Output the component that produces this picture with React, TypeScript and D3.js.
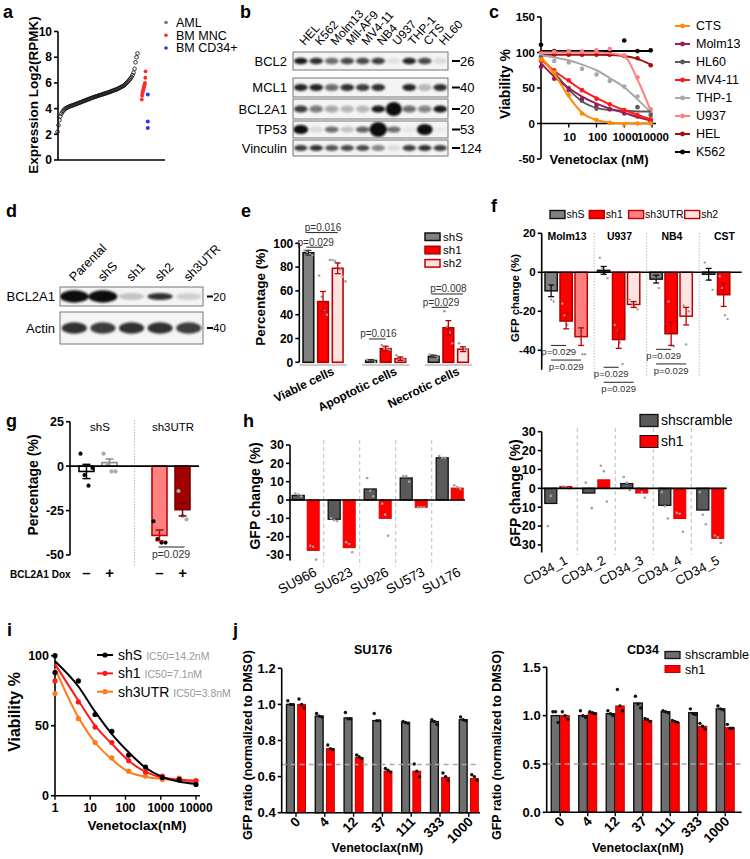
import * as d3 from 'd3';

const FONT = "'Liberation Sans', Arial, Helvetica, sans-serif";

// ---------- a: BCL2A1 expression ----------
const amlExpr = [
  2.2, 2.7, 3.1, 3.4, 3.6, 3.75, 3.85, 3.93, 4.0, 4.05,
  4.1, 4.13, 4.16, 4.19, 4.22, 4.25, 4.27, 4.3, 4.33, 4.36,
  4.39, 4.42, 4.45, 4.48, 4.51, 4.54, 4.57, 4.6, 4.63, 4.66,
  4.69, 4.72, 4.75, 4.78, 4.81, 4.84, 4.87, 4.9, 4.92, 4.95,
  4.97, 5.0, 5.02, 5.05, 5.07, 5.1, 5.12, 5.15, 5.17, 5.2,
  5.22, 5.25, 5.27, 5.3, 5.33, 5.36, 5.39, 5.42, 5.45, 5.48,
  5.5, 5.54, 5.58, 5.62, 5.66, 5.7, 5.74, 5.78, 5.84, 5.92,
  6.0, 6.08, 6.16, 6.25, 6.35, 6.45, 6.6, 6.8, 7.1, 7.6,
  8.0, 8.3,
];
const mncExpr = [4.7, 5.0, 5.2, 5.3, 5.4, 5.5, 5.6, 5.7, 5.8, 5.9, 6.0, 6.4, 6.9];
const cd34Expr = [5.1, 3.0, 2.5];
const aLegend = ['AML', 'BM MNC', 'BM CD34+'];
const aColors = ['#777', '#ff2b2b', '#3030ff'];

// ---------- b: western blot (band intensity 0..1, >1 = saturated) ----------
const blotLanes = ['HEL', 'K562', 'Molm13', 'Mll-AF9', 'MV4-11', 'NB4', 'U937', 'THP-1', 'CTS', 'HL60'];
const blotRows = ['BCL2', 'MCL1', 'BCL2A1', 'TP53', 'Vinculin'];
const blotKDa = ['26', '40', '20', '53', '124'];
const bcl2Band = [0.95, 0.85, 0.6, 0.75, 0.75, 0.8, 0.08, 0.9, 0.75, 0.1];
const mcl1Band = [0.9, 0.9, 0.6, 0.85, 0.8, 0.85, 0.0, 0.9, 0.25, 0.85];
const bcl2a1Band = [0.8, 0.55, 0.35, 0.25, 0.25, 0.95, 1.6, 0.6, 0.5, 0.95];
const tp53Band = [1.3, 0.1, 0.6, 0.2, 0.65, 1.9, 0.6, 0.05, 1.5, 0.03];
const vinculinBand = [0.8, 0.85, 0.7, 0.75, 0.75, 0.5, 0.1, 0.8, 0.85, 0.8];
const blotBands = [bcl2Band, mcl1Band, bcl2a1Band, tp53Band, vinculinBand];

// ---------- c: venetoclax dose response ----------
const cDoses = [1, 3, 10, 30, 100, 300, 1000, 3000, 9000];
const cLines = ['CTS', 'Molm13', 'HL60', 'MV4-11', 'THP-1', 'U937', 'HEL', 'K562'];
const cColors = ['#ff8c00', '#9b1b5a', '#5a5a5a', '#ff1a1a', '#a8a8a8', '#ff8080', '#a01010', '#000000'];
const ctsPts = [90, 72, 40, 14, 5, 1, -1, 0, 0];
const ctsFit = [93, 70, 38, 15, 5, 1.5, 0.3, 0, 0];
const molm13Pts = [80, 63, 47, 35, 26, 20, 14, 10, 3];
const molm13Fit = [85, 66, 50, 38, 28, 21, 15, 9, 4];
const hl60Pts = [93, 70, 50, 32, 21, 20, 18, 23, 12];
const hl60Fit = [93, 72, 48, 31, 22, 19, 18, 17, 17];
const mv411Pts = [88, 75, 61, 47, 35, 27, 19, 12, 6];
const mv411Fit = [90, 74, 60, 47, 36, 27, 19, 12, 6];
const thp1Pts = [95, 88, 86, 77, 69, 60, 52, 38, 15];
const thp1Fit = [96, 93, 89, 83, 75, 64, 51, 34, 16];
const u937Pts = [98, 101, 102, 101, 103, 105, 96, 65, 20];
const u937Fit = [100, 100, 100, 100, 100, 99, 95, 62, 18];
const helPts = [100, 97, 97, 97, 97, 97, 95, 92, 82];
const helFit = [97, 97, 97, 97, 97, 96.5, 95, 91, 83];
const k562Pts = [111, 102, 101, 101, 101, 101, 117, 102, 103];
const k562Fit = [102, 102, 102, 102, 102, 102, 102, 102, 102];
const cPoints = [ctsPts, molm13Pts, hl60Pts, mv411Pts, thp1Pts, u937Pts, helPts, k562Pts];
const cFits = [ctsFit, molm13Fit, hl60Fit, mv411Fit, thp1Fit, u937Fit, helFit, k562Fit];

// ---------- d: knockdown blot ----------
const dLanes = ['Parental', 'shS', 'sh1', 'sh2', 'sh3UTR'];
const dRows = ['BCL2A1', 'Actin'];
const dKDa = ['20', '40'];
const dBcl2a1Band = [1.5, 1.5, 0.2, 0.85, 0.15];
const dActinBand = [0.85, 0.8, 0.85, 0.85, 0.8];
const dBands = [dBcl2a1Band, dActinBand];

// ---------- e: cell death ----------
const eGroups = ['Viable cells', 'Apoptotic cells', 'Necrotic cells'];
const eSeries = ['shS', 'sh1', 'sh2'];
const eShS = [92, 1.5, 5];
const eSh1 = [51, 11.5, 29];
const eSh2 = [79, 3, 11];
const eShSErr = [2, 0.8, 1];
const eSh1Err = [8.5, 2, 6];
const eSh2Err = [4.5, 1.5, 2];
const eShSDots = [[94, 93, 91, 90], [2, 1.5, 1, 0.5], [6.5, 6, 5, 4]];
const eSh1Dots = [[73, 55, 43, 40], [14.5, 11.5, 11, 10.5], [43, 30, 25, 16]];
const eSh2Dots = [[86, 86, 85, 83, 78, 72, 68], [6, 4, 3, 2], [16, 12, 11, 10]];
const eFill = ['#808080', '#ff0000', '#ffe3e3'];
const eStroke = ['#111', '#b00000', '#c00000'];
const ePvals = [
  { g: 0, a: 0, b: 2, v: 109, label: 'p=0.016' },
  { g: 0, a: 0, b: 1, v: 96.7, label: 'p=0.029' },
  { g: 1, a: 0, b: 1, v: 19.6, label: 'p=0.016' },
  { g: 2, a: 0, b: 2, v: 57.4, label: 'p=0.008' },
  { g: 2, a: 0, b: 1, v: 46.2, label: 'p=0.029' },
];

// ---------- f: GFP competition ----------
const fCells = ['Molm13', 'U937', 'NB4', 'CST'];
const fShRNA = [['shS', 'sh1', 'sh3UTR'], ['shS', 'sh1', 'sh2'], ['shS', 'sh1', 'sh2'], ['shS', 'sh1']];
const fMeans = [[-9.5, -25, -33], [1, -34.5, -16.5], [-3.5, -31.5, -22.5], [-1, -11.5]];
const fErrs = [[3, 4, 4.5], [2, 4.5, 1.5], [2, 6, 4.5], [3, 6]];
const fDots = [
  [[-7, -14, -15], [-16, -22, -27, -40], [-22, -30, -42, -42]],
  [[7.5, 2, -1, -3], [-27, -30, -36, -47], [-14, -16, -18, -19]],
  [[0, -3, -8], [-15, -37.5, -38], [-17, -37, -20]],
  [[5, 0, -4, -9], [-2, -8, -22, -24]],
];
const fPLevels = [[-37.5, -45], [-48.7, -56.4], [-39.5, -47], []];
const fLegend = ['shS', 'sh1', 'sh3UTR', 'sh2'];
const fFill = { shS: '#808080', sh1: '#ff0000', sh3UTR: '#ff7f7f', sh2: '#ffe3e3' };
const fStroke = { shS: '#111', sh1: '#b00000', sh3UTR: '#c00000', sh2: '#c00000' };

// ---------- g: rescue ----------
const gGroups = ['shS', 'sh3UTR'];
const gDox = ['-', '+'];
const gMeans = [[-3, 2], [-39, -24.5]];
const gErrs = [[4, 2], [3, 3.5]];
const gDots = [[[7, -5, -11, -1], [7, 1, -3, -3]], [[-31, -41, -43, -43], [-14, -28, -30]]];
const gFill = [['#fff', '#fff'], ['#ff8080', '#a00000']];
const gStroke = [['#000', '#888'], ['#c00000', '#7a0000']];

// ---------- h: primary samples ----------
const hLeftLines = ['SU966', 'SU623', 'SU926', 'SU573', 'SU176'];
const hLeftScr = [2.5, -10.5, 6, 12, 23];
const hLeftSh1 = [-27.5, -26, -10, -4, 6.5];
const hLeftScrDots = [[3.5, 3, 2], [-10, -11, -11.5], [12, 5, 2], [13, 13, 10], [24, 23, 23]];
const hLeftSh1Dots = [[-25, -25.5, -32.5], [-23, -24, -28.5], [-2, -8, -19.5], [-4, -4, -4], [8, 7, 6]];
const hRightSamples = ['CD34_1', 'CD34_2', 'CD34_3', 'CD34_4', 'CD34_5'];
const hRightScr = [-8, -2.5, 2.5, -9, -11.5];
const hRightSh1 = [1, 4.5, -2.5, -16, -26.5];
const hRightScrDots = [[-20, -4, 0], [3, 0, -10.5], [6, 3, -1], [-2, -9.5, -16], [-2, -14, -19]];
const hRightSh1Dots = [[1, 0.5, 0], [12, 9, -7], [0, -2, -5], [-13, -13.5, -23], [-25, -26, -29]];

// ---------- i: IC50 ----------
const iDoses = [1, 4.6, 13.7, 41, 123, 370, 1111, 3333, 10000];
const iLines = ['shS', 'sh1', 'sh3UTR'];
const iIC50 = ['IC50=14.2nM', 'IC50=7.1nM', 'IC50=3.8nM'];
const iColors = ['#000000', '#ff1a1a', '#ff7a1a'];
const iShSPts = [100, 82, 58, 46, 29, 20.5, 13, 11.5, 8];
const iSh1Pts = [82, 67, 49, 38, 25, 17, 14, 12, 10.5];
const iSh3Pts = [73, 55, 38, 27, 17.5, 14, 11.5, 12.5, 11];
const iShSFit = [96, 78, 60, 44, 31, 20, 13.5, 10, 8.5];
const iSh1Fit = [94, 68, 50, 37, 25, 17, 13, 11.5, 10.5];
const iSh3Fit = [91, 56, 38, 26, 17, 13.5, 12, 11, 10.5];
const iShSDmsoRep = 88;
const iPoints = [iShSPts, iSh1Pts, iSh3Pts];
const iFits = [iShSFit, iSh1Fit, iSh3Fit];

// ---------- j: GFP ratio vs venetoclax ----------
const jDoses = ['0', '4', '12', '37', '111', '333', '1000'];
const jSU176Scr = [1.0, 0.935, 0.925, 0.91, 0.9, 0.905, 0.915];
const jSU176Sh1 = [1.0, 0.755, 0.705, 0.63, 0.63, 0.595, 0.59];
const jSU176ScrDots = [[1.02, 1.0, 1.0], [0.95, 0.935, 0.93], [0.955, 0.92, 0.92], [0.95, 0.91, 0.91], [0.905, 0.9, 0.895], [0.915, 0.905, 0.89], [0.93, 0.915, 0.91]];
const jSU176Sh1Dots = [[1.03, 1.0, 0.98], [0.775, 0.755, 0.75], [0.72, 0.71, 0.7], [0.645, 0.635, 0.625], [0.67, 0.63, 0.6], [0.62, 0.6, 0.58], [0.61, 0.6, 0.58]];
const jCD34Scr = [1.0, 1.0, 1.02, 1.13, 1.04, 1.03, 1.07];
const jCD34Sh1 = [1.0, 1.03, 1.1, 0.95, 0.93, 0.89, 0.875];
const jCD34ScrDots = [[1.04, 1.04, 0.93], [1.05, 1.0, 0.98], [1.05, 1.02, 1.0], [1.2, 1.12, 1.08], [1.05, 1.04, 1.03], [1.07, 1.02, 1.01], [1.1, 1.07, 1.06]];
const jCD34Sh1Dots = [[1.04, 1.0, 0.96], [1.04, 1.03, 1.02], [1.27, 1.1, 1.05], [0.97, 0.96, 0.94], [0.95, 0.94, 0.93], [0.92, 0.89, 0.86], [0.91, 0.87, 0.87]];

// ---------- shared pieces ----------
function YAxis({ x, scale, ticks, size = 12, fmt = (d: number) => String(d), top, bottom }: any) {
  const r = scale.range();
  const y0 = top ?? Math.min(r[0], r[1]);
  const y1 = bottom ?? Math.max(r[0], r[1]);
  return (
    <g>
      <line x1={x} x2={x} y1={y0} y2={y1} stroke="#000" strokeWidth={1.6} />
      {ticks.map((t: number) => (
        <g key={t}>
          <line x1={x - 4} x2={x} y1={scale(t)} y2={scale(t)} stroke="#000" strokeWidth={1.6} />
          <text x={x - 6} y={scale(t)} dy="0.35em" textAnchor="end" fontSize={size} fontWeight="bold">
            {fmt(t)}
          </text>
        </g>
      ))}
    </g>
  );
}

function YTitle({ x, y, size, children }: any) {
  return (
    <text transform={`translate(${x},${y}) rotate(-90)`} dy="0.35em" textAnchor="middle" fontSize={size} fontWeight="bold">
      {children}
    </text>
  );
}

function Dots({ cx, values, y, r = 1.3, fill = '#a0a0a0', spread = 2.6 }: any) {
  return (
    <g>
      {values.map((v: number, k: number) => (
        <circle key={k} cx={cx + (k - (values.length - 1) / 2) * spread} cy={y(v)} r={r} fill={fill} />
      ))}
    </g>
  );
}

function ErrBar({ cx, y, mean, err, color, cap = 3, w = 1.3 }: any) {
  const y1 = y(mean - err);
  const y2 = y(mean + err);
  return (
    <g stroke={color} strokeWidth={w}>
      <line x1={cx} x2={cx} y1={y1} y2={y2} />
      <line x1={cx - cap} x2={cx + cap} y1={y1} y2={y1} />
      <line x1={cx - cap} x2={cx + cap} y1={y2} y2={y2} />
    </g>
  );
}

function Bar({ cx, w, y, v, base = 0, fill, stroke, sw = 1.3 }: any) {
  const a = y(base);
  const b = y(v);
  return <rect x={cx - w / 2} y={Math.min(a, b)} width={w} height={Math.abs(a - b)} fill={fill} stroke={stroke} strokeWidth={sw} />;
}

function PanelLabel({ x, y, t }: any) {
  return (
    <text x={x} y={y} fontSize={18} fontWeight="bold">
      {t}
    </text>
  );
}

// ---------- panels ----------
function PanelA() {
  const y = d3.scaleLinear().domain([0, 10]).range([160, 31.5]);
  const xAml = d3.scaleLinear().domain([0, amlExpr.length - 1]).range([57.5, 137.5]);
  const mncSorted = [...mncExpr].sort((a, b) => a - b);
  const xMnc = d3.scaleLinear().domain([0, mncSorted.length - 1]).range([141.8, 145.6]);
  const ly = d3.scalePoint().domain(aLegend).range([22.5, 48]);
  return (
    <g>
      <line x1={58} x2={165} y1={160} y2={160} stroke="#000" strokeWidth={1.6} />
      <YAxis x={58} scale={y} ticks={[0, 2, 4, 6, 8, 10]} size={12} />
      {amlExpr.map((v, i) => (
        <circle key={i} cx={xAml(i)} cy={y(v)} r={1.8} fill="none" stroke="#1a1a1a" strokeWidth={0.9} />
      ))}
      {mncSorted.map((v, i) => (
        <circle key={i} cx={xMnc(i)} cy={y(v)} r={1.9} fill={aColors[1]} />
      ))}
      {cd34Expr.map((v, i) => (
        <circle key={i} cx={147.8} cy={y(v)} r={2} fill={aColors[2]} />
      ))}
      <YTitle x={33} y={95} size={13.5}>Expression Log2(RPMK)</YTitle>
      {aLegend.map((l, i) => (
        <g key={l}>
          <circle cx={166} cy={ly(l)} r={1.8} fill={aColors[i]} />
          <text x={176} y={ly(l)} dy="0.35em" fontSize={12.5}>
            {l}
          </text>
        </g>
      ))}
    </g>
  );
}

function Blot({ lanes, bands, boxes, x0, x1, id }: any) {
  const lx = d3.scaleBand().domain(lanes).range([x0, x1]);
  const bw = lx.bandwidth();
  return (
    <g>
      {boxes.map(([t, b]: number[], r: number) => {
        const h = b - t;
        const cy = (t + b) / 2;
        return (
          <g key={r}>
            <clipPath id={`${id}-clip-${r}`}>
              <rect x={x0} y={t} width={x1 - x0} height={h} />
            </clipPath>
            <rect x={x0} y={t} width={x1 - x0} height={h} fill="#f4f4f4" />
            <g clipPath={`url(#${id}-clip-${r})`} filter="url(#blotBlur)">
              {lanes.map((ln: string, i: number) => {
                const v = bands[r][i];
                if (v <= 0.02) return null;
                const big = Math.max(0, v - 1);
                return (
                  <ellipse
                    key={ln}
                    cx={lx(ln)! + bw / 2}
                    cy={cy}
                    rx={bw * 0.44 * (1 + big * 0.3)}
                    ry={h * 0.18 * (1 + big * 1.6)}
                    fill="#111"
                    opacity={Math.min(1, v)}
                  />
                );
              })}
            </g>
            <rect x={x0} y={t} width={x1 - x0} height={h} fill="none" stroke="#777" strokeWidth={1} />
          </g>
        );
      })}
    </g>
  );
}

function PanelB() {
  const lx = d3.scaleBand().domain(blotLanes).range([293, 448]);
  const boxes = [[52, 70], [78, 97], [99, 119], [121, 138], [140, 156]];
  return (
    <g>
      {blotLanes.map((l) => {
        const x = lx(l)! + lx.bandwidth() / 2 + 4;
        return (
          <text key={l} x={x} y={46} fontSize={12} transform={`rotate(-48,${x},46)`}>
            {l}
          </text>
        );
      })}
      <Blot lanes={blotLanes} bands={blotBands} boxes={boxes} x0={293} x1={448} id="b" />
      {blotRows.map((r, i) => {
        const cy = (boxes[i][0] + boxes[i][1]) / 2;
        return (
          <g key={r}>
            <text x={287} y={cy} dy="0.35em" textAnchor="end" fontSize={13}>
              {r}
            </text>
            <line x1={452} x2={460} y1={cy} y2={cy} stroke="#000" strokeWidth={2} />
            <text x={460} y={cy} dy="0.35em" fontSize={13}>
              {blotKDa[i]}
            </text>
          </g>
        );
      })}
    </g>
  );
}

function PanelC() {
  const x = d3.scaleLog().domain([1, 10000]).range([541, 652]);
  const y = d3.scaleLinear().domain([-50, 150]).range([159, 17]);
  const line = d3
    .line<number>()
    .x((_, i) => x(cDoses[i]))
    .y((v) => y(v))
    .curve(d3.curveMonotoneX);
  const ly = d3.scalePoint().domain(cLines).range([26, 152]);
  const order = [7, 6, 5, 4, 2, 1, 3, 0];
  return (
    <g>
      <line x1={541} x2={656} y1={y(0)} y2={y(0)} stroke="#000" strokeWidth={1.6} />
      {[10, 100, 1000, 10000].map((t) => (
        <g key={t}>
          <line x1={x(t)} x2={x(t)} y1={y(0)} y2={y(0) + 4} stroke="#000" strokeWidth={1.4} />
          <text x={x(t) + 1} y={y(0) + 17} textAnchor="middle" fontSize={11.5} fontWeight="bold">
            {t}
          </text>
        </g>
      ))}
      <YAxis x={541} scale={y} ticks={[-50, 0, 50, 100, 150]} size={11.5} />
      {order.map((k) => (
        <g key={cLines[k]}>
          <path d={line(cFits[k]) || ''} fill="none" stroke={cColors[k]} strokeWidth={2} />
          {cPoints[k].map((v, i) => (
            <circle key={i} cx={x(cDoses[i])} cy={y(v)} r={2.3} fill={cColors[k]} />
          ))}
        </g>
      ))}
      <YTitle x={505} y={84} size={14}>Viability %</YTitle>
      <text x={599} y={164} textAnchor="middle" fontSize={13} fontWeight="bold">
        Venetoclax (nM)
      </text>
      {cLines.map((l, i) => (
        <g key={l}>
          <line x1={675} x2={690} y1={ly(l)} y2={ly(l)} stroke={cColors[i]} strokeWidth={2} />
          <circle cx={682.5} cy={ly(l)} r={2.4} fill={cColors[i]} />
          <text x={696} y={ly(l)} dy="0.35em" fontSize={12.5}>
            {l}
          </text>
        </g>
      ))}
    </g>
  );
}

function PanelD() {
  const lx = d3.scaleBand().domain(dLanes).range([60, 203]);
  const boxes = [[287, 306], [312, 344]];
  return (
    <g>
      {dLanes.map((l) => {
        const x = lx(l)! + lx.bandwidth() / 2;
        return (
          <text key={l} x={x} y={282} fontSize={12.5} transform={`rotate(-45,${x},282)`}>
            {l}
          </text>
        );
      })}
      <Blot lanes={dLanes} bands={dBands} boxes={boxes} x0={60} x1={203} id="d" />
      {dRows.map((r, i) => {
        const cy = (boxes[i][0] + boxes[i][1]) / 2;
        return (
          <g key={r}>
            <text x={55} y={cy} dy="0.35em" textAnchor="end" fontSize={13}>
              {r}
            </text>
            <line x1={207} x2={213} y1={cy} y2={cy} stroke="#000" strokeWidth={2} />
            <text x={213} y={cy} dy="0.35em" fontSize={11.5}>
              {dKDa[i]}
            </text>
          </g>
        );
      })}
    </g>
  );
}

function PanelE() {
  const y = d3.scaleLinear().domain([0, 100]).range([362.3, 243.3]);
  const gx = d3.scaleBand().domain(eGroups).range([291.7, 479.7]);
  const bx = d3.scaleBand().domain(eSeries).range([-20, 20]).paddingInner(0.27);
  const means = [eShS, eSh1, eSh2];
  const errs = [eShSErr, eSh1Err, eSh2Err];
  const dots = [eShSDots, eSh1Dots, eSh2Dots];
  const bw = bx.bandwidth();
  const cx = (gi: number, si: number) => gx(eGroups[gi])! + gx.bandwidth() / 2 + bx(eSeries[si])! + bw / 2;
  return (
    <g>
      {eGroups.map((g, gi) => (
        <line key={g} x1={cx(gi, 0) - 9} x2={cx(gi, 2) + 9} y1={365} y2={365} stroke="#999" strokeWidth={1} />
      ))}
      {eGroups.map((g, gi) =>
        eSeries.map((s, si) => {
          const c = cx(gi, si);
          return (
            <g key={g + s}>
              <Bar cx={c} w={bw} y={y} v={means[si][gi]} fill={eFill[si]} stroke={eStroke[si]} sw={1.6} />
              <Dots cx={c} values={dots[si][gi]} y={y} />
              <ErrBar cx={c} y={y} mean={means[si][gi]} err={errs[si][gi]} color={si === 0 ? '#333' : '#c00000'} />
            </g>
          );
        })
      )}
      <YAxis x={299.3} scale={y} ticks={[0, 20, 40, 60, 80, 100]} size={12} />
      <YTitle x={260} y={297} size={13.5}>Percentage (%)</YTitle>
      {eGroups.map((g, gi) => {
        const x = gx(g)! + gx.bandwidth() / 2 + 12;
        return (
          <text key={g} x={x} y={374} textAnchor="end" fontSize={12} fontWeight="bold" transform={`rotate(-26,${x},374)`}>
            {g}
          </text>
        );
      })}
      {ePvals.map((p, i) => {
        const xa = cx(p.g, p.a);
        const xb = cx(p.g, p.b);
        const yy = y(p.v);
        return (
          <g key={i}>
            <line x1={xa - 2} x2={xb} y1={yy} y2={yy} stroke="#222" strokeWidth={1} />
            <text x={(xa + xb) / 2} y={yy - 1.5} textAnchor="middle" fontSize={10} fill="#333">
              {p.label}
            </text>
          </g>
        );
      })}
      {eSeries.map((s, i) => (
        <g key={s}>
          <rect x={425} y={233 + i * 13.3} width={15} height={7.5} fill={eFill[i]} stroke={eStroke[i]} strokeWidth={1.5} />
          <text x={443} y={236.8 + i * 13.3} dy="0.35em" fontSize={11.5}>
            {s}
          </text>
        </g>
      ))}
    </g>
  );
}

function PanelF() {
  const y = d3.scaleLinear().domain([-50, 20]).range([369.8, 233.3]);
  const gx = d3.scaleBand().domain(fCells).range([541.7, 751.7]);
  const bx = d3.scaleBand<number>().domain([0, 1, 2]).range([3.3, 45.6]).paddingInner(0.18);
  const bw = bx.bandwidth();
  const cx = (gi: number, si: number) => gx(fCells[gi])! + bx(si)! + bw / 2;
  let lx = 550;
  const legendX = fLegend.map((l) => {
    const x = lx;
    lx += 22.5 + l.length * 5.6;
    return x;
  });
  return (
    <g>
      {fCells.slice(1).map((c) => (
        <line key={c} x1={gx(c)!} x2={gx(c)!} y1={233} y2={376} stroke="#bbb" strokeWidth={1} strokeDasharray="1.5,1.5" />
      ))}
      {fCells.map((c, gi) =>
        fShRNA[gi].map((s, si) => {
          const x = cx(gi, si);
          return (
            <g key={c + s}>
              <Bar cx={x} w={bw} y={y} v={fMeans[gi][si]} fill={(fFill as any)[s]} stroke={(fStroke as any)[s]} sw={1.5} />
              <Dots cx={x} values={fDots[gi][si]} y={y} r={1.2} />
              <ErrBar cx={x} y={y} mean={fMeans[gi][si]} err={fErrs[gi][si]} color={si === 0 ? '#111' : '#c00000'} />
            </g>
          );
        })
      )}
      <line x1={541.7} x2={741.7} y1={y(0)} y2={y(0)} stroke="#000" strokeWidth={1.6} />
      <YAxis x={541.7} scale={y} ticks={[-40, -20, 0, 20]} size={11.5} />
      <YTitle x={515} y={298} size={11.5}>GFP change (%)</YTitle>
      {fCells.map((c) => (
        <text key={c} x={gx(c)! + gx.bandwidth() / 2 - 1} y={240} textAnchor="middle" fontSize={10.5} fontWeight="bold">
          {c}
        </text>
      ))}
      {fCells.map((c, gi) =>
        fPLevels[gi].map((lv, k) => {
          const xa = cx(gi, 0);
          const xb = cx(gi, k + 1);
          const yy = y(lv);
          return (
            <g key={c + k}>
              <line x1={xa} x2={xb} y1={yy} y2={yy} stroke="#222" strokeWidth={1} />
              <text x={(xa + xb) / 2} y={yy + 10} textAnchor="middle" fontSize={9.5} fill="#333">
                p=0.029
              </text>
            </g>
          );
        })
      )}
      {fLegend.map((l, i) => (
        <g key={l}>
          <rect x={legendX[i]} y={210.5} width={15} height={8} fill={(fFill as any)[l]} stroke={(fStroke as any)[l]} strokeWidth={1.4} />
          <text x={legendX[i] + 16.5} y={214.5} dy="0.35em" fontSize={10.5}>
            {l}
          </text>
        </g>
      ))}
    </g>
  );
}

function PanelG() {
  const y = d3.scaleLinear().domain([-50, 25]).range([555, 421.7]);
  const gx = d3.scaleBand().domain(gGroups).range([61.5, 207.5]);
  const bx = d3.scaleBand().domain(gDox).range([-19, 19]).paddingInner(0.35);
  const bw = bx.bandwidth();
  const cx = (gi: number, di: number) => gx(gGroups[gi])! + gx.bandwidth() / 2 + bx(gDox[di])! + bw / 2;
  const pY = y(-45.5);
  return (
    <g>
      <line x1={gx('sh3UTR')!} x2={gx('sh3UTR')!} y1={420} y2={566} stroke="#bbb" strokeWidth={1} strokeDasharray="1.5,1.5" />
      {gGroups.map((g, gi) =>
        gDox.map((d, di) => {
          const x = cx(gi, di);
          return (
            <g key={g + d}>
              <Bar cx={x} w={bw} y={y} v={gMeans[gi][di]} fill={gFill[gi][di]} stroke={gStroke[gi][di]} sw={1.6} />
              <Dots cx={x} values={gDots[gi][di]} y={y} r={2.1} spread={4} fill={di === 0 ? '#000' : '#aaa'} />
              <ErrBar cx={x} y={y} mean={gMeans[gi][di]} err={gErrs[gi][di]} color={gStroke[gi][di]} cap={4} w={1.5} />
            </g>
          );
        })
      )}
      <line x1={70} x2={199} y1={y(0)} y2={y(0)} stroke="#000" strokeWidth={1.6} />
      <YAxis x={70} scale={y} ticks={[-50, -25, 0, 25]} size={12.5} />
      <YTitle x={33} y={485} size={14}>Percentage (%)</YTitle>
      {gGroups.map((g) => (
        <text key={g} x={gx(g)! + gx.bandwidth() / 2 + 2} y={431} textAnchor="middle" fontSize={11.5}>
          {g}
        </text>
      ))}
      <text x={10} y={578} fontSize={10} fontWeight="bold">
        BCL2A1 Dox
      </text>
      {gGroups.map((g, gi) =>
        gDox.map((d, di) => (
          <text key={g + d} x={cx(gi, di)} y={578} textAnchor="middle" fontSize={15} fontWeight="bold">
            {d === '-' ? '–' : '+'}
          </text>
        ))
      )}
      <line x1={cx(1, 0) - 1} x2={cx(1, 1) + 2} y1={pY} y2={pY} stroke="#222" strokeWidth={1} />
      <text x={(cx(1, 0) + cx(1, 1)) / 2} y={pY + 11} textAnchor="middle" fontSize={10.5} fill="#333">
        p=0.029
      </text>
    </g>
  );
}

function GroupBars({ axisX, gRange, names, scr, sh1, scrDots, sh1Dots, y, zeroEnd, ticks, divTop, divBottom, labelY, labelDx, labelSize }: any) {
  const gx = d3.scaleBand().domain(names).range(gRange);
  const bx = d3.scaleBand().domain(['scr', 'sh1']).range([-13.5, 13.5]).paddingInner(0.2);
  const bw = bx.bandwidth();
  const cx = (n: string, s: string) => gx(n)! + gx.bandwidth() / 2 + bx(s)! + bw / 2;
  return (
    <g>
      {names.slice(1).map((n: string) => (
        <line key={n} x1={gx(n)!} x2={gx(n)!} y1={divTop} y2={divBottom} stroke="#c8c8c8" strokeWidth={1.2} strokeDasharray="4,3" />
      ))}
      {names.map((n: string, i: number) => (
        <g key={n}>
          <Bar cx={cx(n, 'scr')} w={bw} y={y} v={scr[i]} fill="#5a5a5a" stroke="#111" sw={1.3} />
          <Bar cx={cx(n, 'sh1')} w={bw} y={y} v={sh1[i]} fill="#ff0000" stroke="#e00000" sw={1} />
          <Dots cx={cx(n, 'scr')} values={scrDots[i]} y={y} r={1.3} spread={3} />
          <Dots cx={cx(n, 'sh1')} values={sh1Dots[i]} y={y} r={1.3} spread={3} />
        </g>
      ))}
      <line x1={axisX} x2={zeroEnd} y1={y(0)} y2={y(0)} stroke="#000" strokeWidth={1.6} />
      <YAxis x={axisX} scale={y} ticks={ticks} size={12.5} />
      {names.map((n: string) => {
        const x = gx(n)! + gx.bandwidth() / 2 + labelDx;
        return (
          <text key={n} x={x} y={labelY} textAnchor="end" fontSize={labelSize} transform={`rotate(-28,${x},${labelY})`}>
            {n}
          </text>
        );
      })}
    </g>
  );
}

function PanelH() {
  const yL = d3.scaleLinear().domain([-33, 30]).range([560.5, 445]);
  const yR = d3.scaleLinear().domain([-34, 30]).range([552.5, 431.7]);
  return (
    <g>
      <GroupBars axisX={290} gRange={[287.7, 467.7]} names={hLeftLines} scr={hLeftScr} sh1={hLeftSh1} scrDots={hLeftScrDots} sh1Dots={hLeftSh1Dots} y={yL} zeroEnd={465} ticks={[-30, -20, -10, 0, 10, 20, 30]} divTop={440} divBottom={567} labelY={575} labelDx={12} labelSize={13.5} />
      <YTitle x={255} y={496} size={14}>GFP change (%)</YTitle>
      <GroupBars axisX={541.7} gRange={[539.3, 729.3]} names={hRightSamples} scr={hRightScr} sh1={hRightSh1} scrDots={hRightScrDots} sh1Dots={hRightSh1Dots} y={yR} zeroEnd={726.7} ticks={[-30, -20, -10, 0, 10, 20, 30]} divTop={428} divBottom={555} labelY={563} labelDx={10} labelSize={13} />
      <YTitle x={515} y={493} size={14}>GFP change (%)</YTitle>
      <rect x={640} y={414.5} width={18} height={12} fill="#5a5a5a" stroke="#111" strokeWidth={1.3} />
      <text x={661} y={420.5} dy="0.35em" fontSize={14}>
        shscramble
      </text>
      <rect x={640} y={435.5} width={18} height={12} fill="#ff0000" stroke="#111" strokeWidth={1} />
      <text x={661} y={441.5} dy="0.35em" fontSize={14}>
        sh1
      </text>
    </g>
  );
}

function PanelI() {
  const x = d3.scaleLog().domain([1, 10000]).range([55, 196]);
  const y = d3.scaleLinear().domain([0, 100]).range([795.7, 655.7]);
  const line = d3
    .line<number>()
    .x((_, i) => x(iDoses[i]))
    .y((v) => y(v))
    .curve(d3.curveMonotoneX);
  const ly = d3.scalePoint().domain(iLines).range([655, 691.7]);
  return (
    <g>
      <line x1={55} x2={200} y1={y(0)} y2={y(0)} stroke="#000" strokeWidth={1.6} />
      {[1, 10, 100, 1000, 10000].map((t) => (
        <g key={t}>
          <line x1={x(t)} x2={x(t)} y1={y(0)} y2={y(0) + 4} stroke="#000" strokeWidth={1.4} />
          <text x={x(t)} y={y(0) + 16} textAnchor="middle" fontSize={12} fontWeight="bold">
            {t}
          </text>
        </g>
      ))}
      <YAxis x={55} scale={y} ticks={[0, 50, 100]} size={12.5} />
      {[2, 1, 0].map((k) => (
        <g key={iLines[k]}>
          <path d={line(iFits[k]) || ''} fill="none" stroke={iColors[k]} strokeWidth={2} />
          {iPoints[k].map((v, i) => (
            <circle key={i} cx={x(iDoses[i])} cy={y(v)} r={2.6} fill={iColors[k]} />
          ))}
        </g>
      ))}
      <circle cx={x(1)} cy={y(iShSDmsoRep)} r={2.6} fill={iColors[0]} />
      <YTitle x={14} y={712} size={16}>Viability %</YTitle>
      <text x={137} y={830} textAnchor="middle" fontSize={13.5} fontWeight="bold">
        Venetoclax(nM)
      </text>
      {iLines.map((l, i) => (
        <g key={l}>
          <line x1={97} x2={113} y1={ly(l)} y2={ly(l)} stroke={iColors[i]} strokeWidth={2} />
          <circle cx={105} cy={ly(l)} r={2.6} fill={iColors[i]} />
          <text x={118} y={ly(l)} dy="0.35em" fontSize={14}>
            {l}
            <tspan fontSize={10.5} fill="#999" dx={4}>
              {iIC50[i]}
            </tspan>
          </text>
        </g>
      ))}
    </g>
  );
}

function RatioBars({ axisX, gRange, inner, pad, y, scr, sh1, scrDots, sh1Dots, end, ticks, fmt, cut, title, titleX }: any) {
  const gx = d3.scaleBand().domain(jDoses).range(gRange);
  const bx = d3.scaleBand().domain(['scr', 'sh1']).range(inner).paddingInner(pad);
  const bw = bx.bandwidth();
  const base = y.domain()[0];
  const cx = (d: string, s: string) => gx(d)! + gx.bandwidth() / 2 + bx(s)! + bw / 2;
  const bottom = y(base);
  return (
    <g>
      {jDoses.map((d, i) => (
        <g key={d}>
          <Bar cx={cx(d, 'scr')} w={bw} y={y} v={scr[i]} base={base} fill="#6e6e6e" stroke="#111" sw={1.4} />
          <Bar cx={cx(d, 'sh1')} w={bw} y={y} v={sh1[i]} base={base} fill="#ff0000" stroke="#c00000" sw={1} />
          <Dots cx={cx(d, 'scr')} values={scrDots[i]} y={y} r={1.7} spread={2.6} fill="#111" />
          <Dots cx={cx(d, 'sh1')} values={sh1Dots[i]} y={y} r={1.7} spread={2.6} fill="#111" />
        </g>
      ))}
      <line x1={axisX} x2={end} y1={y(cut)} y2={y(cut)} stroke="#a8a8a8" strokeWidth={1.6} strokeDasharray="5,4" />
      <line x1={axisX} x2={end} y1={bottom} y2={bottom} stroke="#000" strokeWidth={1.6} />
      {jDoses.map((d) => {
        const x = gx(d)! + gx.bandwidth() / 2;
        return (
          <g key={d}>
            <line x1={x} x2={x} y1={bottom} y2={bottom + 4} stroke="#000" strokeWidth={1.4} />
            <text x={x + 5} y={bottom + 10} textAnchor="end" fontSize={13.5} fontWeight="bold" transform={`rotate(-45,${x + 5},${bottom + 10})`}>
              {d}
            </text>
          </g>
        );
      })}
      <YAxis x={axisX} scale={y} ticks={ticks} size={13} fmt={fmt} />
      <text x={titleX} y={654} textAnchor="middle" fontSize={12.5} fontWeight="bold">
        {title}
      </text>
      <text x={(gRange[0] + gRange[1]) / 2 - 5} y={852} textAnchor="middle" fontSize={12.5} fontWeight="bold">
        Venetoclax(nM)
      </text>
    </g>
  );
}

function PanelJ() {
  const yL = d3.scaleLinear().domain([0.4, 1.2]).range([812.7, 668.3]);
  const yR = d3.scaleLinear().domain([0, 1.5]).range([812.3, 667.3]);
  const f1 = d3.format('.1f');
  return (
    <g>
      <RatioBars axisX={281.7} gRange={[281.6, 483.2]} inner={[-9.5, 9.5]} pad={0.3} y={yL} scr={jSU176Scr} sh1={jSU176Sh1} scrDots={jSU176ScrDots} sh1Dots={jSU176Sh1Dots} end={480} ticks={[0.4, 0.6, 0.8, 1.0, 1.2]} fmt={f1} cut={0.667} title="SU176" titleX={373} />
      <YTitle x={248} y={745} size={12.5}>GFP ratio (normalized to DMSO)</YTitle>
      <RatioBars axisX={546.7} gRange={[546.5, 739]} inner={[-9, 9]} pad={0.1} y={yR} scr={jCD34Scr} sh1={jCD34Sh1} scrDots={jCD34ScrDots} sh1Dots={jCD34Sh1Dots} end={741.7} ticks={[0, 0.5, 1.0, 1.5]} fmt={f1} cut={0.5} title="CD34" titleX={643} />
      <YTitle x={497} y={745} size={12.5}>GFP ratio (normalized to DMSO)</YTitle>
      <rect x={665} y={651.5} width={15} height={7} fill="#6e6e6e" stroke="#111" strokeWidth={1.3} />
      <text x={685} y={655} dy="0.35em" fontSize={12.5}>
        shscramble
      </text>
      <rect x={665} y={665.5} width={15} height={7} fill="#ff0000" stroke="#c00000" strokeWidth={1} />
      <text x={685} y={669.5} dy="0.35em" fontSize={12.5}>
        sh1
      </text>
    </g>
  );
}

export default function App() {
  return (
    <svg
      width={750}
      height={859}
      style={{ position: 'absolute', left: 0, top: 0, background: '#fff' }}
      fontFamily={FONT}
    >
      <defs>
        <filter id="blotBlur" x="-20%" y="-50%" width="140%" height="200%">
          <feGaussianBlur stdDeviation="1.1" />
        </filter>
      </defs>
      <rect width={750} height={859} fill="#fff" />
      <PanelA />
      <PanelB />
      <PanelC />
      <PanelD />
      <PanelE />
      <PanelF />
      <PanelG />
      <PanelH />
      <PanelI />
      <PanelJ />
      <PanelLabel x={3} y={18} t="a" />
      <PanelLabel x={240} y={18} t="b" />
      <PanelLabel x={489} y={18} t="c" />
      <PanelLabel x={6} y={217} t="d" />
      <PanelLabel x={241} y={217} t="e" />
      <PanelLabel x={491} y={212} t="f" />
      <PanelLabel x={6} y={427} t="g" />
      <PanelLabel x={243} y={427} t="h" />
      <PanelLabel x={7} y={636} t="i" />
      <PanelLabel x={233} y={636} t="j" />
    </svg>
  );
}
